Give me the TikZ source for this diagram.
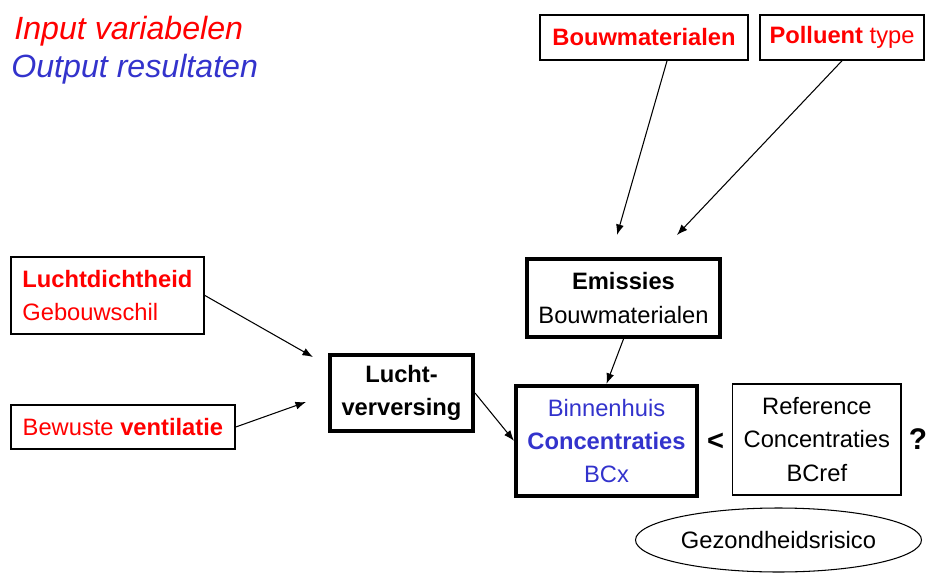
\documentclass[tikz,border=0pt]{standalone}
\usepackage{fontspec}
\setmainfont{Liberation Sans}
\usetikzlibrary{arrows.meta,shapes.geometric,calc}
\definecolor{inred}{RGB}{255,0,0}
\definecolor{outblue}{RGB}{51,51,204}
\tikzset{
  txt/.style={font=\fontsize{13.5}{18.9}\selectfont, align=center, inner sep=0pt},
  thinbox/.style={txt, draw, line width=0.85pt, rectangle},
  refbox/.style={txt, draw, line width=0.6pt, rectangle},
  thickbox/.style={txt, draw, line width=2.3pt, rectangle},
  conn/.style={line width=0.6pt, -{Latex[length=6pt,width=4.5pt]}},
  legend/.style={font=\fontsize{18.3}{22}\selectfont\itshape, anchor=base west, inner sep=0pt}
}
\begin{document}
\begin{tikzpicture}[x=0.02cm,y=-0.02cm]
\useasboundingbox (0,0) rectangle (927,572);

% legend
\node[legend, text=inred] (lin) at (14,39) {Input variabelen};
\node[legend, text=outblue] (lout) at (11,77) {Output resultaten};

% input boxes
\node[thinbox, minimum width=4.16cm, minimum height=0.9cm, text=inred] (bm) at (644,37.5) {\textbf{Bouwmaterialen}};
\node[thinbox, minimum width=3.28cm, minimum height=0.9cm, text=inred] (pt) at (842,37.5) {\textbf{Polluent} type};
\node[thinbox, minimum width=3.866cm, minimum height=1.546cm, text=inred, align=left] (ld) at (107.4,295.4) {\textbf{Luchtdichtheid}\\Gebouwschil};
\node[thinbox, minimum width=4.486cm, minimum height=0.88cm, text=inred] (bv) at (122.9,427) {Bewuste \textbf{ventilatie}};

% process boxes
\node[thickbox, minimum width=2.86cm, minimum height=1.52cm] (lv) at (401.5,393) {\textbf{Lucht-}\\\textbf{verversing}};
\node[thickbox, minimum width=3.86cm, minimum height=1.56cm] (em) at (623.5,298) {\textbf{Emissies}\\Bouwmaterialen};
\node[thickbox, minimum width=3.62cm, minimum height=2.2cm, text=outblue] (bh) at (606.5,440.85) {Binnenhuis\\\textbf{Concentraties}\\BCx};
\node[refbox, minimum width=3.366cm, minimum height=2.22cm] (ref) at (816.85,439.5) {Reference\\Concentraties\\BCref};

% comparison signs
\node[txt, font=\fontsize{16.5}{18}\selectfont\bfseries] (lt) at (715.7,441.5) {<};
\node[txt, font=\fontsize{17}{19}\selectfont\bfseries] (qm) at (918,439) {?};

% health risk: the oval runs off the lower edge
\node[txt] (gr) at (778.5,540) {Gezondheidsrisico};
\draw[line width=0.6pt] (gr.center) ellipse [x radius=2.86cm, y radius=0.64cm];

% free arrow ends
\coordinate (bmtip) at (617,235);
\coordinate (pttip) at (677,235);
\coordinate (ldtip) at (313,357);
\coordinate (bvtip) at (306,402);

% connectors
\draw[conn] ($(bm.south west)!0.61!(bm.south east)$) -- (bmtip);
\draw[conn] (pt.south) -- (pttip);
\draw[conn] (ld.east) -- (ldtip);
\draw[conn] (bv.east) -- (bvtip);
\draw[conn] (lv.east) -- (bh.west);
\draw[conn] (em.south) -- (bh.north);
\end{tikzpicture}
\end{document}
